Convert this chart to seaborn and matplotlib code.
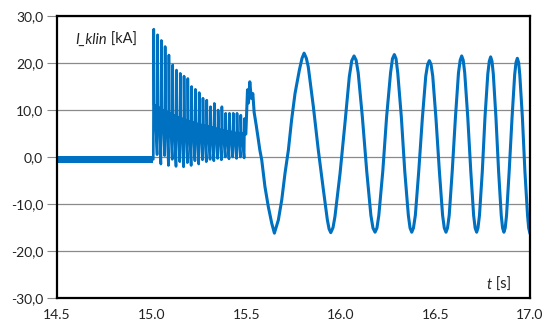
import matplotlib
matplotlib.use("Agg")
import matplotlib.pyplot as plt
import numpy as np
import pandas as pd
import seaborn as sns

BLUE = "#0070C0"

# Pre-fault steady state: narrow band around zero (kA)
idle_t = [14.5, 15.006]
idle_hi = [0.3, 0.3]
idle_lo = [-1.3, -1.3]

# Switching transient 15.0-15.5 s: one spike per 20 ms cycle
spike_t = [15.01, 15.03, 15.05, 15.07, 15.09, 15.11, 15.13, 15.15, 15.17,
           15.19, 15.21, 15.23, 15.25, 15.27, 15.29, 15.31, 15.33, 15.35,
           15.37, 15.39, 15.41, 15.43, 15.45, 15.47, 15.49]
spike_peak = [27.2, 26.0, 24.8, 23.5, 21.7, 19.6, 18.5, 17.8, 17.2, 16.7,
              15.0, 14.4, 13.7, 12.5, 12.1, 10.7, 11.4, 10.0, 10.7, 9.3,
              9.3, 9.3, 9.3, 8.9, 8.2]
spike_mid = [11.0, 10.5, 10.0, 9.6, 9.2, 8.8, 8.5, 8.2, 7.9, 7.6, 7.4, 7.1,
             6.9, 6.7, 6.5, 6.3, 6.1, 5.9, 5.7, 5.5, 5.4, 5.2, 5.1, 5.0, 4.9]
spike_low = [-0.5, 0.5, -1.5, 0.3, -1.8, -0.5, -2.0, -1.0, -2.1, -1.2, -1.8,
             -0.8, -1.5, -0.6, -1.0, -0.5, -0.8, -0.3, -0.6, 0.0, -0.4, 0.0,
             -0.3, 0.0, -0.2]

# Swing after 15.5 s
swing_t = [15.507, 15.512, 15.519, 15.527, 15.535, 15.542, 15.552, 15.562,
           15.572, 15.582, 15.599, 15.617, 15.635, 15.649, 15.670, 15.688,
           15.705, 15.723, 15.740, 15.758, 15.781, 15.795, 15.806,
           15.818, 15.828, 15.855, 15.881, 15.908, 15.929, 15.938, 15.947,
           15.959, 15.969, 15.996, 16.022, 16.045, 16.058, 16.070,
           16.081, 16.092, 16.114, 16.137, 16.159, 16.170, 16.181,
           16.191, 16.201, 16.222, 16.242, 16.263, 16.273, 16.283,
           16.292, 16.301, 16.320, 16.338, 16.357, 16.366, 16.375,
           16.384, 16.394, 16.412, 16.431, 16.449, 16.459, 16.468,
           16.477, 16.486, 16.503, 16.521, 16.538, 16.547, 16.556,
           16.564, 16.573, 16.589, 16.606, 16.622, 16.631, 16.639,
           16.647, 16.655, 16.671, 16.687, 16.702, 16.710, 16.718,
           16.725, 16.733, 16.748, 16.762, 16.777, 16.785, 16.792,
           16.799, 16.806, 16.820, 16.834, 16.848, 16.855, 16.862,
           16.869, 16.876, 16.890, 16.905, 16.919, 16.926, 16.933,
           16.940, 16.946, 16.960, 16.973, 16.987, 16.993, 17.000]
swing_v = [14.3, 11.5, 16.0, 12.5, 13.5, 9.5, 7.0, 4.3,
           1.5, -0.6, -6.3, -10.6, -14.1, -16.2, -13.4, -9.1,
           -3.5, 1.5, 7.9, 13.5, 18.5, 21.0, 22.1,
           21.0, 19.2, 10.7, 1.5, -7.0, -13.4, -15.3, -16.1,
           -15.0, -12.7, -3.5, 7.2, 17.1, 20.5, 21.5,
           20.6, 17.9, 8.5, -3.0, -12.4, -15.1, -16.0,
           -15.1, -12.4, -3.0, 8.5, 17.9, 20.9, 21.8,
           20.9, 17.9, 8.5, -3.0, -12.4, -15.1, -16.0,
           -15.1, -12.4, -3.0, 8.2, 17.2, 19.7, 20.5,
           19.7, 17.2, 8.2, -3.0, -12.4, -15.1, -16.0,
           -15.1, -12.4, -3.0, 8.5, 17.9, 20.6, 21.5,
           20.6, 17.9, 8.5, -3.0, -12.4, -15.1, -16.0,
           -15.1, -12.4, -3.0, 8.4, 17.7, 20.4, 21.3,
           20.4, 17.7, 8.4, -3.0, -12.4, -15.1, -16.0,
           -15.1, -12.4, -3.0, 8.3, 17.5, 20.1, 21.0,
           20.1, 17.5, 8.3, -3.0, -12.4, -15.1, -16.3]

y_ticks = [-30, -20, -10, 0, 10, 20, 30]
x_ticks = [14.5, 15.0, 15.5, 16.0, 16.5, 17.0]

# Transient: each cycle jumps to the peak, falls back to the plateau,
# then slides down to the next cycle's low
tr_t, tr_v = [15.006], [-0.5]
for tk, pk, md, lo in zip(spike_t, spike_peak, spike_mid, spike_low):
    tr_t += [tk - 0.001, tk + 0.0015, tk + 0.004, tk + 0.008]
    tr_v += [lo, pk, md, md]
transient = pd.DataFrame({"t": tr_t, "I": tr_v})
swing = pd.DataFrame({"t": [tr_t[-1]] + swing_t, "I": [tr_v[-1]] + swing_v})

sns.set_theme(style="white")
plt.rcParams["font.family"] = ["Lato", "DejaVu Sans"]

fig = plt.figure(figsize=(5.48, 3.24), dpi=100)
ax = fig.add_axes([57 / 548, 1 - 298 / 324, 473 / 548, 282 / 324])

ax.fill_between(idle_t, idle_lo, idle_hi, color=BLUE, lw=0)
sns.lineplot(data=transient, x="t", y="I", sort=False, estimator=None,
             color=BLUE, lw=1.9, ax=ax)
sns.lineplot(data=swing, x="t", y="I", sort=False, estimator=None,
             color=BLUE, lw=2.2, ax=ax)

ax.set_xlim(14.5, 17.0)
ax.set_ylim(-30, 30)
ax.set_yticks(y_ticks)
ax.set_yticklabels([f"{v:.1f}".replace(".", ",") for v in y_ticks])
ax.set_xticks(x_ticks)
ax.set_xticklabels([f"{v:.1f}" for v in x_ticks])
ax.set_xlabel("")
ax.set_ylabel("")

ax.yaxis.grid(True, color="#8a8a8a", lw=0.9)
ax.xaxis.grid(False)
ax.set_axisbelow(True)
for s in ax.spines.values():
    s.set_color("black")
    s.set_linewidth(1.6)

ax.tick_params(axis="y", left=True, length=7, width=0.8, color="#8a8a8a",
               pad=3, labelsize=10, labelcolor="#222222")
ax.tick_params(axis="x", bottom=False, length=0, pad=8, labelsize=10,
               labelcolor="#222222")

# Axis captions inside the plot area
t1 = ax.text(0.038, 0.917, "I_klin", transform=ax.transAxes, fontsize=10.5,
             style="italic", va="center", ha="left", color="#222222")
t2 = ax.text(0.909, 0.046, "t", transform=ax.transAxes, fontsize=10.5,
             style="italic", va="center", ha="left", color="#222222")
fig.canvas.draw()
r = fig.canvas.get_renderer()
inv = ax.transAxes.inverted()
for txt, rest in ((t1, " [kA]"), (t2, " [s]")):
    bb = txt.get_window_extent(renderer=r)
    x1 = inv.transform((bb.x1, bb.y0))[0]
    ax.text(x1, txt.get_position()[1], rest, transform=ax.transAxes,
            fontsize=10.5, va="center", ha="left", color="#222222")

fig.savefig("out.png", dpi=100)
